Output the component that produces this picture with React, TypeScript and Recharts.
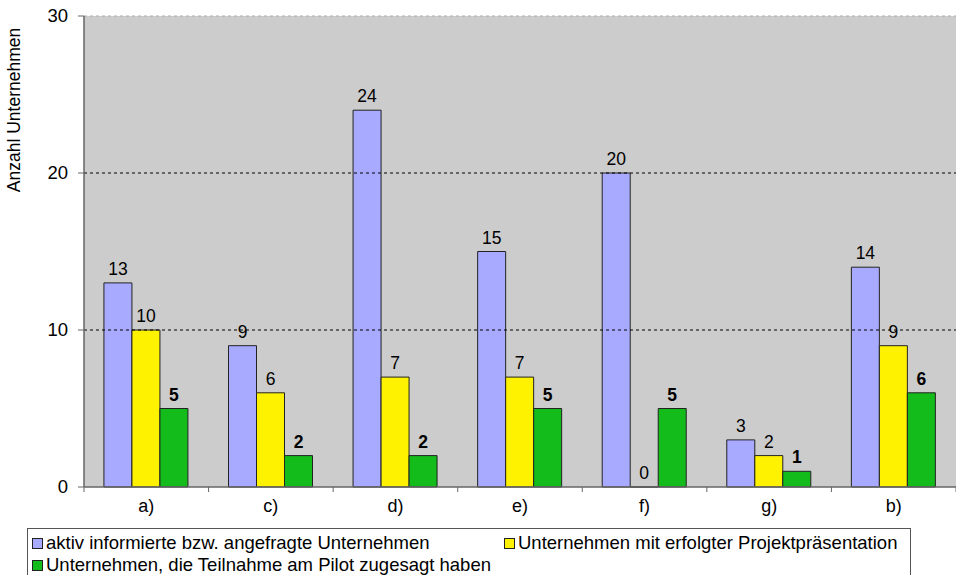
import { BarChart, Bar, XAxis, YAxis, CartesianGrid, ReferenceLine } from "recharts";

const categories = ["a)", "c)", "d)", "e)", "f)", "g)", "b)"];
const informiert = [13, 9, 24, 15, 20, 3, 14];
const praesentation = [10, 6, 7, 7, 0, 2, 9];
const zugesagt = [5, 2, 2, 5, 5, 1, 6];
const yTicks = [0, 10, 20, 30];

const SERIES = [
  { key: "informiert", name: "aktiv informierte bzw. angefragte Unternehmen", color: "#a8aaff" },
  { key: "praesentation", name: "Unternehmen mit erfolgter Projektpräsentation", color: "#fff200" },
  { key: "zugesagt", name: "Unternehmen, die Teilnahme am Pilot zugesagt haben", color: "#13bb1b" },
];

const data = categories.map((name, i) => ({
  name,
  informiert: informiert[i],
  praesentation: praesentation[i],
  zugesagt: zugesagt[i],
}));

const FONT = "'Liberation Sans', Arial, Helvetica, sans-serif";
const W = 956;
const PLOT_LEFT = 84;
const BAND = (W - PLOT_LEFT) / categories.length;

const XTick = (props: any) => {
  const { x, y, payload } = props;
  const left = x - BAND / 2;
  return (
    <g>
      <line x1={left} y1={y - 8} x2={left} y2={y - 3} stroke="#666" />
      {payload.index === categories.length - 1 && (
        <line x1={left + BAND} y1={y - 8} x2={left + BAND} y2={y - 3} stroke="#666" />
      )}
      <text x={x} y={y + 17} textAnchor="middle" fontSize={18} fontFamily={FONT} fill="#000">
        {payload.value}
      </text>
    </g>
  );
};

const YTick = (props: any) => {
  const { x, y, payload } = props;
  return (
    <text x={x - 8} y={y + 6} textAnchor="end" fontSize={18.5} fontFamily={FONT} fill="#000">
      {payload.value}
    </text>
  );
};

const makeLabel = (bold: boolean) => (props: any) => {
  const { x, y, width, height, value } = props;
  const top = Math.min(y, y + (height || 0));
  return (
    <text
      x={x + width / 2}
      y={top - 8}
      textAnchor="middle"
      fontSize={17.5}
      fontWeight={bold ? "bold" : "normal"}
      fontFamily={FONT}
      fill="#000"
    >
      {value}
    </text>
  );
};

export default function App() {
  return (
    <div style={{ position: "absolute", left: 0, top: 0, width: W, height: 575, background: "#fff", fontFamily: FONT, overflow: "hidden" }}>
      <BarChart
        width={W}
        height={520}
        data={data}
        margin={{ top: 16, right: 0, bottom: 0, left: 0 }}
        barCategoryGap="16%"
        barGap={0}
      >
        <CartesianGrid vertical={false} horizontal={false} fill="#cccccc" fillOpacity={1} />
        <ReferenceLine y={10} stroke="#000" strokeDasharray="3 3" />
        <ReferenceLine y={20} stroke="#000" strokeDasharray="3 3" />
        <ReferenceLine y={30} stroke="#aaa" strokeDasharray="3 3" />
        {SERIES.map((s, i) => (
          <Bar
            key={s.key}
            dataKey={s.key}
            fill={s.color}
            stroke="#222"
            strokeWidth={1}
            minPointSize={0.01}
            isAnimationActive={false}
            label={makeLabel(i === 2)}
          />
        ))}
        <XAxis
          dataKey="name"
          height={33}
          tickLine={false}
          axisLine={{ stroke: "#666", strokeWidth: 1.5 }}
          tick={<XTick />}
          interval={0}
        />
        <YAxis
          width={PLOT_LEFT}
          domain={[0, 30]}
          ticks={yTicks}
          interval={0}
          axisLine={{ stroke: "#666", strokeWidth: 1.5 }}
          tickLine={{ stroke: "#666" }}
          tickSize={6}
          tick={<YTick />}
        />
      </BarChart>
      <div
        style={{
          position: "absolute",
          left: 14,
          top: 110,
          transform: "translate(-50%, -50%) rotate(-90deg)",
          whiteSpace: "nowrap",
          fontSize: 17.5,
        }}
      >
        Anzahl Unternehmen
      </div>
      <div
        style={{
          position: "absolute",
          left: 27,
          top: 528,
          width: 884,
          height: 60,
          border: "1px solid #555",
          fontSize: 18.5,
          lineHeight: "22px",
          boxSizing: "border-box",
        }}
      >
        {SERIES.map((s, i) => (
          <div
            key={s.key}
            style={{
              position: "absolute",
              left: i === 1 ? 476 : 4,
              top: i === 2 ? 25 : 3,
              display: "flex",
              alignItems: "center",
              whiteSpace: "nowrap",
            }}
          >
            <span
              style={{
                display: "inline-block",
                width: 9,
                height: 9,
                background: s.color,
                border: "1px solid #222",
                marginRight: 3,
              }}
            />
            {s.name}
          </div>
        ))}
      </div>
    </div>
  );
}
